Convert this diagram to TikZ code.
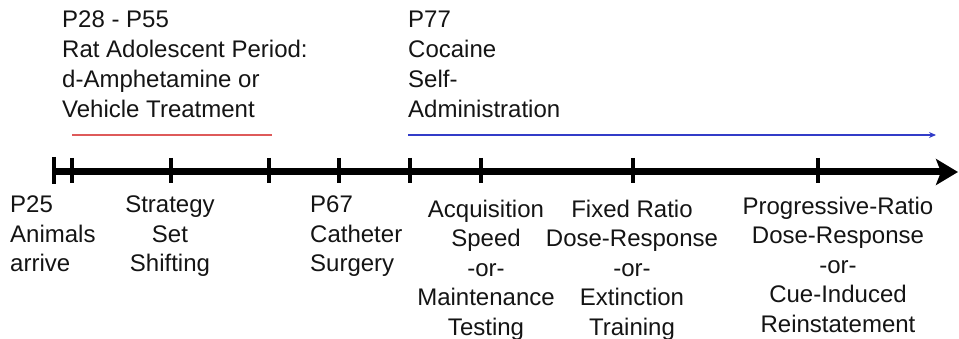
\documentclass[tikz,border=0pt]{standalone}
\usepackage{fontspec}
\setmainfont{Liberation Sans}
\usetikzlibrary{arrows.meta}
\definecolor{redline}{RGB}{222,90,90}
\definecolor{blueline}{RGB}{50,60,200}
\definecolor{txt}{RGB}{20,20,20}
\tikzset{
  lbl/.style={inner sep=0pt, text=txt, font=\fontsize{24}{29.5}\selectfont},
  toplbl/.style={inner sep=0pt, text=txt, font=\fontsize{24}{30}\selectfont, align=left, anchor=base west},
  axisline/.style={line width=7pt, -{Stealth[length=22pt,width=26pt,inset=5pt]}},
  tickmark/.style={line width=3.5pt},
  period/.style={line width=1.6pt}
}
\begin{document}
\begin{tikzpicture}[x=1pt,y=-1pt]
\useasboundingbox (0,0) rectangle (959,339);
% top labels (anchor = baseline of last line)
\node[toplbl] (adol) at (62,118) {P28 - P55\\Rat Adolescent Period:\\d-Amphetamine or\\Vehicle Treatment};
\node[toplbl] (coc) at (408,118) {P77\\Cocaine\\Self-\\Administration};
% period lines
\coordinate (r1) at (72,135);
\coordinate (r2) at (272,135);
\draw[period, redline] (r1) -- (r2);
\coordinate (b1) at (408,135);
\coordinate (b2) at (936,135);
\draw[period, blueline, -{Stealth[length=7pt,width=6pt]}] (b1) -- (b2);
% axis
\coordinate (a0) at (52,172);
\coordinate (a1) at (958,172);
\draw[axisline] (a0) -- (a1);
\coordinate (lt) at (53.5,157);
\coordinate (lb) at (53.5,184);
\draw[line width=4pt] (lt) -- (lb);
\foreach \x [count=\i] in {72,171,269,339,410,481,633,818}{
  \coordinate (t\i a) at (\x,158);
  \coordinate (t\i b) at (\x,183);
  \draw[tickmark] (t\i a) -- (t\i b);
}
% bottom labels (anchor = baseline of last line)
\node[lbl, align=left, anchor=base west] (arrive) at (10,272) {P25\\Animals\\arrive};
\node[lbl, align=center, anchor=base] (strat) at (170,272) {Strategy\\Set\\Shifting};
\node[lbl, align=left, anchor=base west] (surg) at (310,272) {P67\\Catheter\\Surgery};
\node[lbl, align=center, anchor=base] (acq) at (486,335) {Acquisition\\Speed\\-or-\\Maintenance\\Testing};
\node[lbl, align=center, anchor=base] (fr) at (632,335) {Fixed Ratio\\Dose-Response\\-or-\\Extinction\\Training};
\node[lbl, align=center, anchor=base] (pr) at (838,332) {Progressive-Ratio\\Dose-Response\\-or-\\Cue-Induced\\Reinstatement};
\end{tikzpicture}
\end{document}
